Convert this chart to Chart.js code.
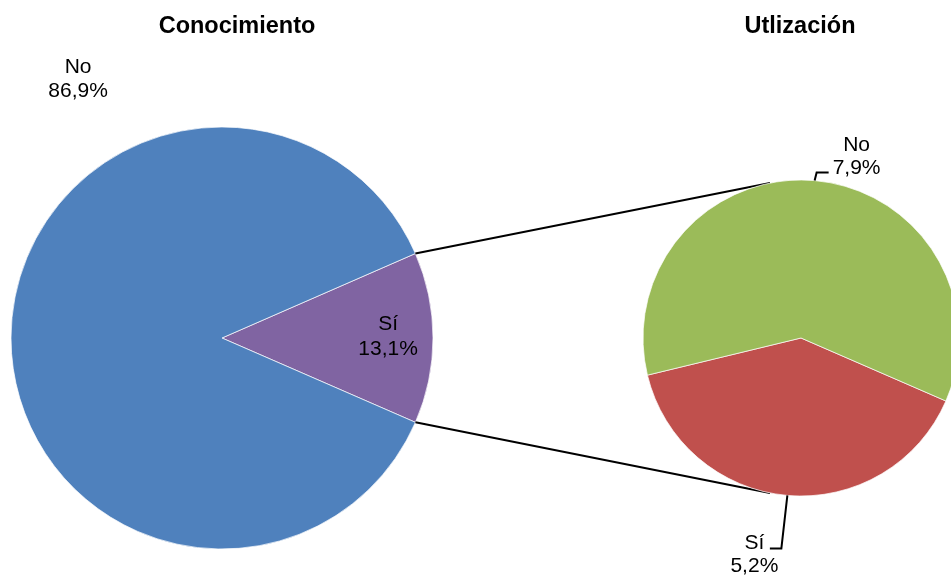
<!DOCTYPE html>
<html>
<head>
<meta charset="utf-8">
<script src="https://cdn.jsdelivr.net/npm/chart.js@4.4.1/dist/chart.umd.min.js"></script>
<style>
    html, body { margin: 0; padding: 0; background: #fff; }
    #wrap { position: relative; width: 951px; height: 575px; overflow: hidden; }
    #wrap canvas { position: absolute; left: 0; top: 0; }
</style>
</head>
<body>
<div id="wrap">
    <canvas id="conocimientoChart" width="951" height="575"></canvas>
    <canvas id="utilizacionChart" width="1010" height="575"></canvas>
</div>
<script>
var conocimientoLabels = ["Sí", "No"];
var conocimientoValues = [13.1, 86.9];
var conocimientoColors = ["#8064A2", "#4F81BD"];

var utilizacionLabels = ["Sí", "No"];
var utilizacionValues = [5.2, 7.9];
var utilizacionColors = ["#C0504D", "#9BBB59"];

var labelFont = "21px 'Liberation Sans', Arial, sans-serif";
var titleFont = "bold 23.5px 'Liberation Sans', Arial, sans-serif";

function formatPercent(value) {
    return value.toFixed(1).replace('.', ',') + '%';
}

function pieGeometry(chart) {
    var arcs = chart.getDatasetMeta(0).data;
    return { arcs: arcs, x: arcs[0].x, y: arcs[0].y, r: arcs[0].outerRadius };
}

function pointOnPie(geo, angle, factor) {
    return {
        x: geo.x + Math.cos(angle) * geo.r * factor,
        y: geo.y + Math.sin(angle) * geo.r * factor
    };
}

function midAngle(arc) {
    return (arc.startAngle + arc.endAngle) / 2;
}

function twoLines(ctx, first, second, x, y, gap) {
    ctx.fillText(first, x, y);
    ctx.fillText(second, x, y + gap);
}

// left pie: titles and labels
var conocimientoLabelsPlugin = {
    id: 'conocimientoLabels',
    afterDraw: function (chart) {
        var ctx = chart.ctx;
        var geo = pieGeometry(chart);
        ctx.save();
        ctx.fillStyle = "#000";
        ctx.textAlign = "center";
        ctx.textBaseline = "alphabetic";

        ctx.font = titleFont;
        ctx.fillText("Conocimiento", 237, 33);

        ctx.font = labelFont;
        // Sí sits inside its slice
        var p = pointOnPie(geo, midAngle(geo.arcs[0]), 0.787);
        twoLines(ctx, conocimientoLabels[0], formatPercent(conocimientoValues[0]), p.x, p.y - 8, 25);

        // No goes above the pie, top left
        var q = { x: geo.x - 0.682 * geo.r, y: geo.y - 1.256 * geo.r };
        twoLines(ctx, conocimientoLabels[1], formatPercent(conocimientoValues[1]), q.x, q.y, 24);
        ctx.restore();
    }
};

var conocimientoChart = new Chart(document.getElementById("conocimientoChart").getContext('2d'), {
    type: 'pie',
    data: {
        labels: conocimientoLabels,
        datasets: [{
            data: conocimientoValues,
            backgroundColor: conocimientoColors,
            borderColor: 'rgba(255,255,255,0.7)',
            borderWidth: 1,
            hoverOffset: 0
        }]
    },
    options: {
        responsive: false,
        animation: false,
        events: [],
        rotation: 66.4,
        radius: 211,
        layout: { padding: { left: 11, right: 518, top: 127, bottom: 26 } },
        plugins: {
            legend: { display: false },
            tooltip: { enabled: false }
        }
    },
    plugins: [conocimientoLabelsPlugin]
});

// right pie: connector lines, title, labels with leader lines
var utilizacionLabelsPlugin = {
    id: 'utilizacionLabels',
    beforeDatasetsDraw: function (chart) {
        var ctx = chart.ctx;
        var left = pieGeometry(conocimientoChart);
        var right = pieGeometry(chart);
        var slice = left.arcs[0];
        var a = pointOnPie(left, slice.startAngle, 1);
        var b = pointOnPie(left, slice.endAngle, 1);
        var c = pointOnPie(right, -101.3 * Math.PI / 180, 1);
        var d = pointOnPie(right, 101.3 * Math.PI / 180, 1);
        ctx.save();
        ctx.strokeStyle = "#000";
        ctx.lineWidth = 2;
        ctx.beginPath();
        ctx.moveTo(a.x, a.y);
        ctx.lineTo(c.x, c.y);
        ctx.moveTo(b.x, b.y);
        ctx.lineTo(d.x, d.y);
        ctx.stroke();
        ctx.restore();
    },
    afterDraw: function (chart) {
        var ctx = chart.ctx;
        var geo = pieGeometry(chart);
        ctx.save();
        ctx.fillStyle = "#000";
        ctx.strokeStyle = "#000";
        ctx.lineWidth = 2;
        ctx.textAlign = "center";
        ctx.textBaseline = "alphabetic";

        ctx.font = titleFont;
        ctx.fillText("Utlización", 800, 33);

        ctx.font = labelFont;

        // No: short bracket going up and to the right
        var s = pointOnPie(geo, midAngle(geo.arcs[1]), 1);
        var noEnd = { x: s.x + 14, y: s.y - 8 };
        ctx.beginPath();
        ctx.moveTo(s.x, s.y);
        ctx.lineTo(s.x + 2, noEnd.y);
        ctx.lineTo(noEnd.x, noEnd.y);
        ctx.stroke();
        var noText = formatPercent(utilizacionValues[1]);
        var noCenter = noEnd.x + 4 + ctx.measureText(noText).width / 2;
        twoLines(ctx, utilizacionLabels[1], noText, noCenter, noEnd.y - 22, 23);

        // Sí: leader goes down and to the left
        var t = pointOnPie(geo, midAngle(geo.arcs[0]), 1);
        var siEnd = { x: t.x - 17.5, y: t.y + 53 };
        ctx.beginPath();
        ctx.moveTo(t.x, t.y);
        ctx.lineTo(t.x - 6, siEnd.y);
        ctx.lineTo(siEnd.x, siEnd.y);
        ctx.stroke();
        twoLines(ctx, utilizacionLabels[0], formatPercent(utilizacionValues[0]), siEnd.x - 15.5, siEnd.y + 1, 23);
        ctx.restore();
    }
};

var utilizacionChart = new Chart(document.getElementById("utilizacionChart").getContext('2d'), {
    type: 'pie',
    data: {
        labels: utilizacionLabels,
        datasets: [{
            data: utilizacionValues,
            backgroundColor: utilizacionColors,
            borderColor: 'rgba(255,255,255,0.7)',
            borderWidth: 1,
            hoverOffset: 0
        }]
    },
    options: {
        responsive: false,
        animation: false,
        events: [],
        rotation: 113.5,
        radius: 158,
        layout: { padding: { left: 643, right: 51, top: 180, bottom: 79 } },
        plugins: {
            legend: { display: false },
            tooltip: { enabled: false }
        }
    },
    plugins: [utilizacionLabelsPlugin]
});
</script>
</body>
</html>
